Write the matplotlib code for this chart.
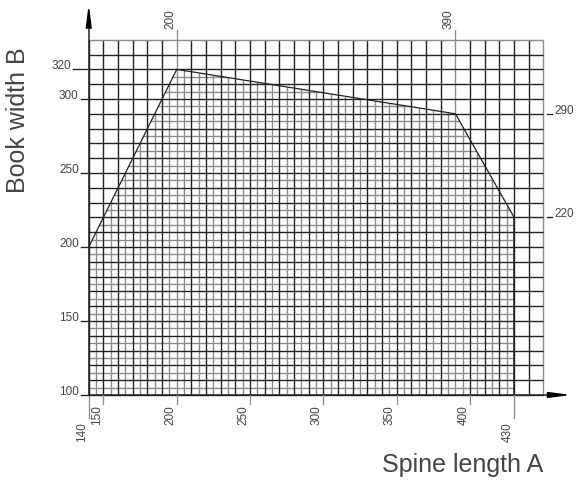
import numpy as np
import matplotlib
matplotlib.use("Agg")
import matplotlib.pyplot as plt
from matplotlib.collections import LineCollection
from matplotlib.patches import Polygon

plt.rcParams['font.family'] = ['Liberation Sans', 'DejaVu Sans']

# outline of the usable area (spine length A, book width B)
outline_a = [140, 200, 390, 430, 430, 140]
outline_b = [200, 320, 290, 220, 100, 100]

# grid extent
grid_a = [140, 450]
grid_b = [100, 340]

bottom_ticks = [140, 150, 200, 250, 300, 350, 400, 430]
top_ticks = [200, 390]
left_ticks = [100, 150, 200, 250, 300, 320]
right_ticks = [220, 290]

ink = '#222222'
grey = '#8c8c8c'
label_col = '#444444'

fig = plt.figure(figsize=(5.76, 4.83), dpi=100)
ax = fig.add_axes([0, 0, 1, 1])
ax.set_xlim(79.5, 472.2)
ax.set_ylim(40.5, 366.9)
ax.axis('off')

# data units per pixel (approx.) used for tick lengths
ux = (472.2 - 79.5) / 576
uy = (366.9 - 40.5) / 483

# coarse grid, every 10 units
coarse_x = np.arange(grid_a[0], grid_a[1] + 1, 10)
coarse_y = np.arange(grid_b[0], grid_b[1] + 1, 10)
segs = [[(x, grid_b[0]), (x, grid_b[1])] for x in coarse_x]
segs += [[(grid_a[0], y), (grid_a[1], y)] for y in coarse_y]
cols = []
for x in coarse_x:
    cols.append(grey if x in (grid_a[1], 200, 390) else ink)
for y in coarse_y:
    cols.append(grey if y == grid_b[1] else ink)
ax.add_collection(LineCollection(segs, colors=cols, linewidths=1.0, zorder=2))

# fine grid (every 5 units) clipped to the outline
poly = Polygon(np.column_stack([outline_a, outline_b]), closed=True,
               facecolor='none', edgecolor='none')
ax.add_patch(poly)
fine_x = np.arange(grid_a[0] + 5, grid_a[1], 10)
fine_y = np.arange(grid_b[0] + 5, grid_b[1], 10)
fsegs = [[(x, grid_b[0]), (x, grid_b[1])] for x in fine_x]
fsegs += [[(grid_a[0], y), (grid_a[1], y)] for y in fine_y]
fine = LineCollection(fsegs, colors=grey, linewidths=1.0, zorder=1.5)
ax.add_collection(fine)
fine.set_clip_path(poly)

# outline
ax.plot(outline_a[:4], outline_b[:4], color=ink, lw=0.9, zorder=3)
ax.plot([430, 430], [220, 100], color=ink, lw=1.1, zorder=3)

# axes with arrows
ax.plot([140, 140], [100, 352], color=ink, lw=1.1, zorder=3)
ax.plot([140, 458], [100, 100], color=ink, lw=1.1, zorder=3)
ax.annotate('', xy=(140, 366), xytext=(140, 350),
            arrowprops=dict(arrowstyle='-|>,head_length=1.3,head_width=0.17',
                            color='black', lw=1.1))
ax.annotate('', xy=(471, 100), xytext=(455, 100),
            arrowprops=dict(arrowstyle='-|>,head_length=1.3,head_width=0.17',
                            color='black', lw=1.1))

fs = 8.5
# bottom ticks
for v in bottom_ticks:
    long = v in (140, 430)
    length = 23 if long else 9
    ax.plot([v, v], [100, 100 - length * uy], color=grey, lw=0.95, zorder=3)
    ty = 100 - ((length + 4) * uy if long else 10 * uy)
    ax.text(v - 0.8 * ux, ty, str(v), rotation=90, ha='right', va='top',
            fontsize=fs, color=label_col)

# top ticks
for v in top_ticks:
    ax.plot([v, v], [grid_b[1], grid_b[1] + 10 * uy], color=grey, lw=0.95, zorder=3)
    ax.text(v - 0.8 * ux, grid_b[1] + 11 * uy, str(v), rotation=90,
            ha='right', va='bottom', fontsize=fs, color=label_col)

# left ticks
for v in left_ticks:
    length = 16 if v == 320 else 8
    ax.plot([140 - length * ux, 140], [v, v], color=ink, lw=0.95, zorder=3)
    ax.text(140 - (length + 2) * ux, v, str(v), ha='right', va='baseline',
            fontsize=fs, color=label_col)

# right ticks
for v in right_ticks:
    ax.plot([grid_a[1] + 4 * ux, grid_a[1] + 9 * ux], [v, v], color=ink, lw=0.95, zorder=3)
    ax.text(grid_a[1] + 11 * ux, v, str(v), ha='left', va='baseline',
            fontsize=fs, color=label_col)

fig.text(18 / 576, 1 - 120 / 483, 'Book width B', rotation=90,
         ha='center', va='center', fontsize=18, color=label_col)
fig.text(463 / 576, 1 - 465 / 483, 'Spine length A',
         ha='center', va='center', fontsize=18, color=label_col)

fig.savefig('out.png', dpi=100, facecolor='white')
